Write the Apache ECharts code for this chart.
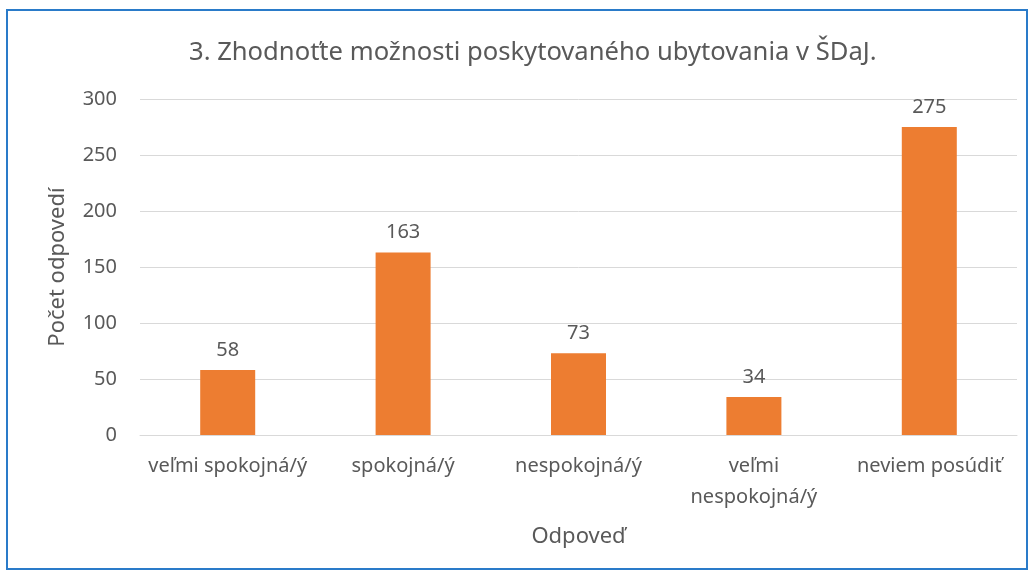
<!DOCTYPE html>
<html lang="sk">
<head>
<meta charset="UTF-8">
<title>graf</title>
<style type="text/css">
body,html{margin:0;padding:0;width:100%;height:100%;background:#fff;}
#chart{width:1033px;height:576px;}
</style>
</head>
<body>
<div id="chart"></div>
<script src="https://cdn.jsdelivr.net/npm/echarts@6/dist/echarts.min.js"></script>
<script type="text/javascript">
var categories = ['veľmi spokojná/ý', 'spokojná/ý', 'nespokojná/ý', 'veľmi\nnespokojná/ý', 'neviem posúdiť'];
var values = [58, 163, 73, 34, 275];
var yTicks = [0, 50, 100, 150, 200, 250, 300];

var font = 'Noto Sans';
var txt = '#595959';

var chart = echarts.init(document.getElementById('chart'));
chart.setOption({
	backgroundColor: '#fff',
	animation: false,
	textStyle: { fontFamily: font },
	title: {
		text: '3. Zhodnoťte možnosti poskytovaného ubytovania v ŠDaJ.',
		left: 184,
		top: 35,
		textStyle: { color: txt, fontSize: 25.6, fontWeight: 'normal', fontFamily: font }
	},
	graphic: [{
		type: 'rect',
		shape: { x: 7, y: 10, width: 1020, height: 559 },
		style: { fill: 'none', stroke: '#2a7bc9', lineWidth: 2 },
		z: -1
	}],
	grid: { left: 140, right: 16, top: 99, bottom: 141, containLabel: false },
	xAxis: {
		type: 'category',
		data: categories,
		name: 'Odpoveď',
		nameLocation: 'middle',
		nameGap: 91,
		nameTextStyle: { color: txt, fontSize: 22, fontFamily: font },
		axisLine: { lineStyle: { color: '#d9d9d9', width: 1 } },
		axisTick: { show: false },
		axisLabel: { color: txt, fontSize: 20, margin: 16, lineHeight: 31, interval: 0, fontFamily: font }
	},
	yAxis: {
		type: 'value',
		min: yTicks[0],
		max: yTicks[yTicks.length - 1],
		interval: 50,
		name: 'Počet odpovedí',
		nameLocation: 'middle',
		nameGap: 71,
		nameTextStyle: { color: txt, fontSize: 22, fontFamily: font },
		axisLine: { show: false },
		axisTick: { show: false },
		axisLabel: { color: txt, fontSize: 20, margin: 23, fontFamily: font },
		splitLine: { lineStyle: { color: '#d9d9d9', width: 1 } }
	},
	series: [{
		type: 'bar',
		data: values,
		barWidth: 55,
		itemStyle: { color: '#ed7d31' },
		label: { show: true, position: 'top', distance: 10, color: txt, fontSize: 20, fontFamily: font }
	}]
});
</script>
</body>
</html>
